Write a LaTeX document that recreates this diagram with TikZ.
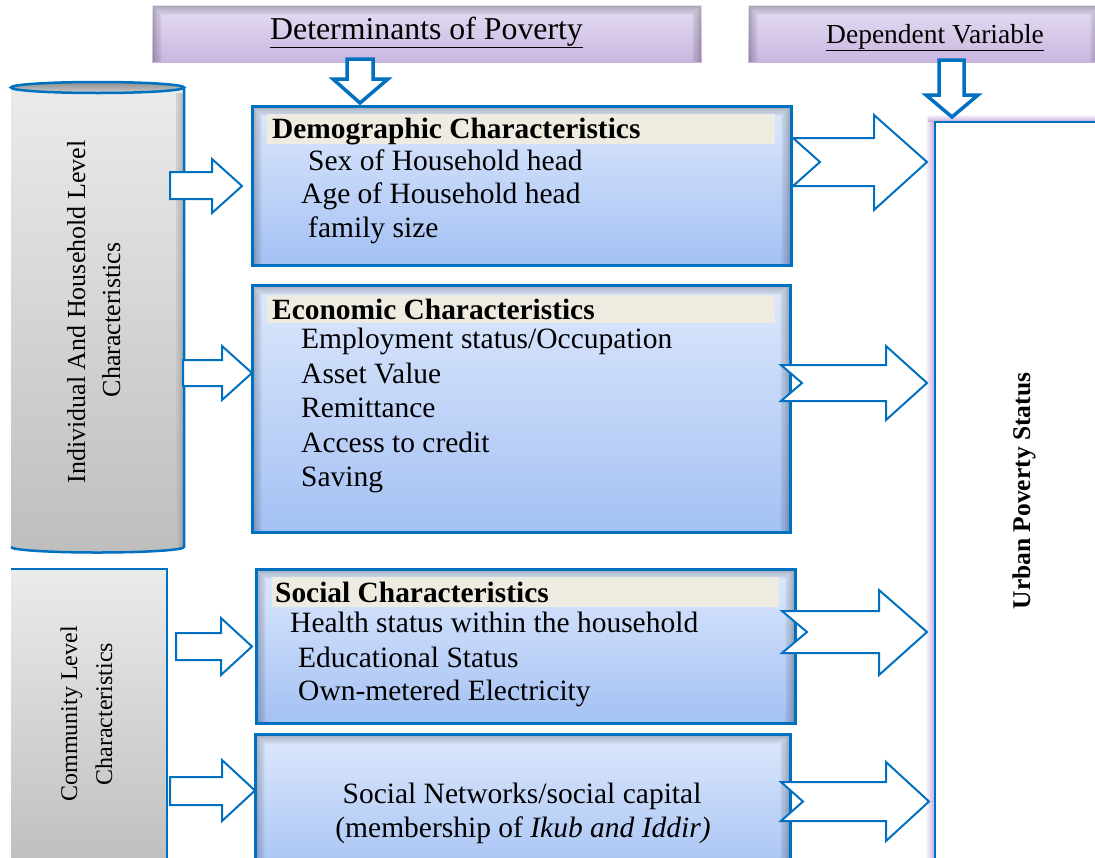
\documentclass[tikz,border=0pt]{standalone}
\usepackage{fontspec}
\setmainfont{Liberation Serif}
\usetikzlibrary{fit}
\definecolor{bb}{RGB}{0,112,192}
\definecolor{bxA}{HTML}{DDE8FC}
\definecolor{bxB}{HTML}{A4C1F4}
\definecolor{bandc}{HTML}{EEEBE0}
\definecolor{hdA}{HTML}{E6DEF4}
\definecolor{hdB}{HTML}{C9B6E0}
\definecolor{gyA}{HTML}{EBEBEB}
\definecolor{gyB}{HTML}{BEBEBE}
\definecolor{glowc}{HTML}{C8B2E0}
\newcommand\innershadow[4]{%
  \foreach \i [evaluate=\i as \op using {0.28*(1-\i/9)}] in {1,...,8}{
    \draw[line width=1.3pt, draw opacity=\op, black] ({#1+\i*1.2},#4) -- ({#1+\i*1.2},{#2+\i*1.2}) -- ({#3-\i*1.2},{#2+\i*1.2}) -- ({#3-\i*1.2},#4);
  }}
\newcommand\rblk[7]{%
  \draw[blkarrow] (#1,#2) -- (#4,#2) -- (#4,#5) -- (#7,{(#5+#6)/2}) -- (#4,#6) -- (#4,#3) -- (#1,#3) -- cycle;}
\newcommand\nblk[9]{%
  \draw[blkarrow] (#1,#2) -- (#5,#2) -- (#5,#6) -- (#8,{(#2+#3)/2}) -- (#5,#7) -- (#5,#3) -- (#1,#3) -- (#4,{(#2+#3)/2}) -- cycle;}
\tikzset{
  blkarrow/.style={draw=bb, fill=white, line width=2pt, line join=miter},
  downarrow/.style={draw=bb, fill=white, line width=3.5pt, line join=miter},
  boxfill/.style={inner sep=0, outer sep=0, top color=bxA, bottom color=bxB},
  hdfill/.style={inner sep=0, outer sep=0, top color=hdA, bottom color=hdB},
  border/.style={draw=bb, line width=3pt},
  bandfill/.style={fill=bandc, inner sep=0, outer sep=0},
  tx/.style={font=\fontsize{29.5}{35}\selectfont, anchor=base west, inner sep=0},
  txb/.style={font=\fontsize{29.4}{35}\selectfont\bfseries, anchor=base west, inner sep=0},
}
\begin{document}
\begin{tikzpicture}[x=1pt,y=-1pt]
\useasboundingbox (0,0) rectangle (1095,857);
\fill[white] (0,0) rectangle (1095,857);

% ---------- headers
\node[hdfill, fit={(152,5) (702,62)}] (h1) {};
\innershadow{152}{5}{702}{62}
\node[font=\fontsize{31.8}{36}\selectfont, anchor=base west, inner sep=0] (h1t) at (270,39) {\underline{Determinants of Poverty}};
\node[hdfill, fit={(748,5) (1100,62)}] (h2) {};
\innershadow{748}{5}{1100}{62}
\node[font=\fontsize{27.5}{32}\selectfont, anchor=base west, inner sep=0] (h2t) at (826,43) {\underline{Dependent Variable}};

% ---------- cylinder
\shade[top color=gyA, bottom color=gyB] (11,87.5) -- (11,547) arc[start angle=180, end angle=0, x radius=86.5, y radius=5.5] -- (184,87.5) -- cycle;
\shade[right color=gyB!70!black, left color=gyB, opacity=0.5] (176,93) rectangle (183,547);
\shade[top color=black!45, bottom color=black!20] (97.5,87.5) ellipse[x radius=86.5, y radius=5.5];
\draw[bb, line width=2.5pt] (97.5,87.5) ellipse[x radius=86.5, y radius=5.5];
\draw[bb, line width=2.5pt] (184,87.5) -- (184,547) arc[start angle=0, end angle=180, x radius=86.5, y radius=5.5];
\node[rotate=90, anchor=base, inner sep=0, font=\fontsize{26}{31}\selectfont] (cylA) at (85,312) {Individual And Household Level};
\node[rotate=90, anchor=base, inner sep=0, font=\fontsize{26}{31}\selectfont] (cylB) at (120,320) {Characteristics};

% ---------- community box
\node[inner sep=0, outer sep=0, top color=gyA, bottom color=gyB, fit={(11,569) (167,870)}] (comm) {};
\draw[bb, line width=2.5pt] (11,569) -- (167,569) -- (167,870);
\node[rotate=90, anchor=base, inner sep=0, font=\fontsize{24}{29}\selectfont] (commA) at (77,714) {Community Level};
\node[rotate=90, anchor=base, inner sep=0, font=\fontsize{24}{29}\selectfont] (commB) at (112,714) {Characteristics};

% ---------- urban poverty box
\shade[left color=white, right color=glowc] (925,116) rectangle (934,862);
\shade[top color=white, bottom color=glowc] (928,114) rectangle (1100,121);
\node[fill=white, inner sep=0, outer sep=0, fit={(935,122) (1100,862)}] (urban) {};
\draw[bb, line width=2.5pt] (1100,122) -- (935,122) -- (935,862);
\node[rotate=90, anchor=base, inner sep=0, font=\fontsize{25.5}{30}\selectfont\bfseries] (urbant) at (1030,491) {Urban Poverty Status};

% ---------- demographic box
\node[boxfill, fit={(252,106) (791,265)}] (demo) {};
\innershadow{252}{106}{791}{265}
\node[bandfill, fit={(267,114) (775,144)}] (demoband) {};
\draw[border] (demo.north west) rectangle (demo.south east);
\node[txb] (d0) at (272,138) {Demographic Characteristics};
\node[tx] (d1) at (308,170) {Sex of Household head};
\node[tx] (d2) at (301,203) {Age of Household head};
\node[tx] (d3) at (308,237) {family size};

% ---------- economic box
\node[boxfill, fit={(252,285) (790,532)}] (econ) {};
\innershadow{252}{285}{790}{532}
\node[bandfill, fit={(267,295) (775,323)}] (econband) {};
\draw[border] (econ.north west) rectangle (econ.south east);
\node[txb] (e0) at (272,319) {Economic Characteristics};
\node[tx] (e1) at (301,348) {Employment status/Occupation};
\node[tx] (e2) at (301,383) {Asset Value};
\node[tx] (e3) at (301,417) {Remittance};
\node[tx] (e4) at (301,452) {Access to credit};
\node[tx] (e5) at (301,486) {Saving};

% ---------- social box
\node[boxfill, fit={(256,569) (795,723)}] (soc) {};
\innershadow{256}{569}{795}{723}
\node[bandfill, fit={(272,577) (779,607)}] (socband) {};
\draw[border] (soc.north west) rectangle (soc.south east);
\node[txb] (s0) at (275,602) {Social Characteristics};
\node[tx] (s1) at (290,632) {Health status within the household};
\node[tx] (s2) at (298,667) {Educational Status};
\node[tx] (s3) at (298,700) {Own-metered Electricity};

% ---------- social network box
\node[boxfill, fit={(255,734) (790,880)}] (net) {};
\innershadow{255}{734}{790}{880}
\draw[border] (net.north west) rectangle (net.south east);
\node[font=\fontsize{29.5}{35}\selectfont, anchor=base, inner sep=0] (n1) at (522,803) {Social Networks/social capital};
\node[font=\fontsize{29.5}{35}\selectfont, anchor=base, inner sep=0] (n2) at (523,837) {(membership of \textit{Ikub and Iddir)}};

% ---------- down arrows
\draw[downarrow] (347,59) -- (373,59) -- (373,79) -- (388,79) -- (360,103) -- (333,79) -- (347,79) -- cycle;
\draw[downarrow] (939,60) -- (964,60) -- (964,95) -- (978,95) -- (952,117) -- (926,95) -- (939,95) -- cycle;

% ---------- left block arrows
\rblk{170}{172}{199}{212}{159}{213}{242}
\rblk{183}{360}{386}{222}{346}{400}{252}
\rblk{176}{633}{660}{221}{618}{675}{252}
\rblk{170}{777}{805}{222}{760}{821}{255}

% ---------- notched block arrows to the dependent variable
\nblk{793}{138}{186}{820}{874}{115}{210}{927}{}
\nblk{781}{365}{401}{802}{886}{346}{420}{927}{}
\nblk{782}{611}{653}{807}{879}{590}{675}{927}{}
\nblk{781}{782}{821}{803}{886}{762}{841}{929}{}
\end{tikzpicture}
\end{document}
